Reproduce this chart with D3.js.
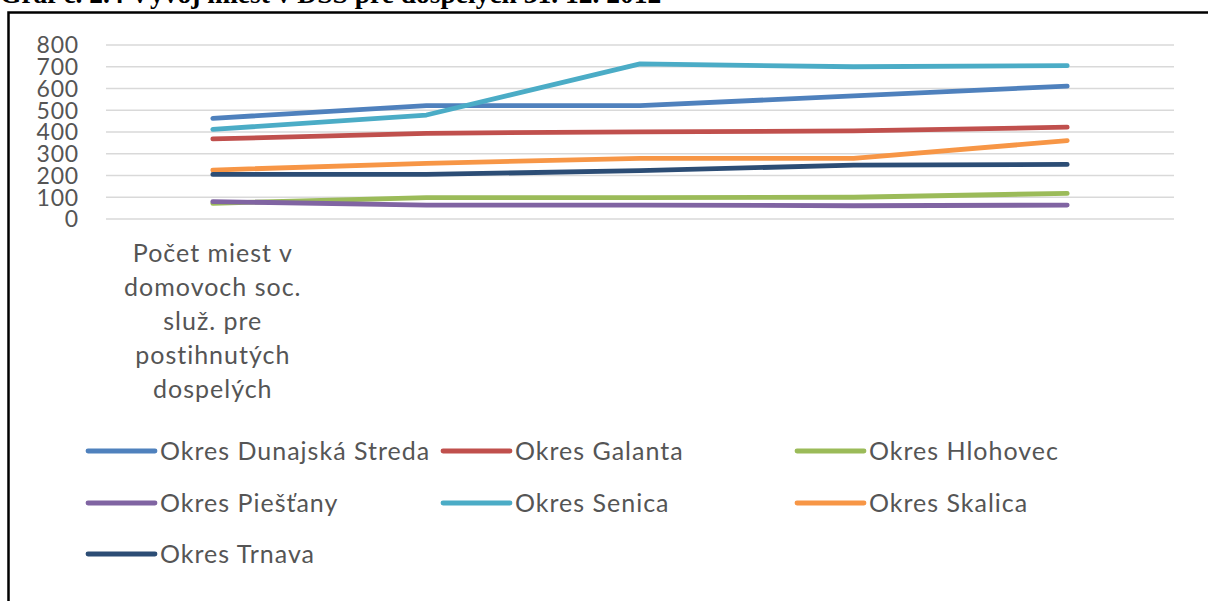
<!DOCTYPE html>
<html>
<head>
<meta charset="utf-8">
<script src="https://cdn.jsdelivr.net/npm/d3@7.9.0/dist/d3.min.js"></script>
<style>
  html, body { margin: 0; padding: 0; background: #fff; overflow: hidden; }
  svg { display: block; }
</style>
</head>
<body>
<svg id="chart" width="1208" height="601"></svg>
<script>
// --- data ---
const title = "Graf č. 2.4  Vývoj miest v DSS pre dospelých  31. 12. 2012";
const categories = ["Počet miest v domovoch soc. služ. pre postihnutých dospelých", "", "", "", ""];
const seriesNames = [
  "Okres Dunajská Streda", "Okres Galanta", "Okres Hlohovec",
  "Okres Piešťany", "Okres Senica", "Okres Skalica", "Okres Trnava"
];
const dunajskaStreda = [463, 521, 521, 566, 611];
const galanta        = [368, 394, 401, 405, 422];
const hlohovec       = [72, 98, 98, 100, 118];
const piestany       = [80, 64, 64, 61, 64];
const senica         = [412, 478, 713, 700, 705];
const skalica        = [225, 256, 279, 279, 360];
const trnava         = [205, 205, 222, 248, 251];
const yTicks = [0, 100, 200, 300, 400, 500, 600, 700, 800];

const seriesValues = [dunajskaStreda, galanta, hlohovec, piestany, senica, skalica, trnava];
const colors = ["#4F81BD", "#C0504D", "#9BBB59", "#8064A2", "#4BACC6", "#F79646", "#2C4D75"];

const series = seriesNames.map((name, i) => ({ name, values: seriesValues[i], color: colors[i] }));

// --- setup ---
const svg = d3.select("#chart");
const font = "Lato, 'Open Sans', sans-serif";
const textColor = "#555555";
const fs = 25;

// title (clipped at top of page)
svg.append("text")
  .attr("x", 0).attr("y", 2.5)
  .attr("font-family", "'Liberation Serif', 'Times New Roman', serif")
  .attr("font-weight", "bold")
  .attr("font-size", 27.5)
  .attr("fill", "#000")
  .text(title);

// frame
svg.append("rect")
  .attr("x", 8.5).attr("y", 12.5)
  .attr("width", 1230).attr("height", 620)
  .attr("fill", "none")
  .attr("stroke", "#000")
  .attr("stroke-width", 2.5);

const plot = { left: 106, right: 1174, top: 45, bottom: 219 };

const x = d3.scaleBand()
  .domain(d3.range(categories.length))
  .range([plot.left, plot.right]);
const cx = i => x(i) + x.bandwidth() / 2;

const y = d3.scaleLinear().domain([0, 800]).range([plot.bottom, plot.top]);

// gridlines
svg.append("g")
  .selectAll("line")
  .data(yTicks)
  .join("line")
  .attr("x1", plot.left).attr("x2", plot.right)
  .attr("y1", d => y(d)).attr("y2", d => y(d))
  .attr("stroke", "#d9d9d9")
  .attr("stroke-width", 1.5);

// y axis labels
svg.append("g")
  .selectAll("text")
  .data(yTicks)
  .join("text")
  .attr("x", 79)
  .attr("y", d => y(d))
  .attr("dy", "0.36em")
  .attr("text-anchor", "end")
  .attr("font-family", font)
  .attr("font-size", 23)
  .attr("letter-spacing", 0.8)
  .attr("fill", textColor)
  .text(d => d);

// category labels (wrapped)
function wrapLines(text, maxW, measure) {
  const words = text.split(/\s+/).filter(Boolean);
  const lines = [];
  let cur = "";
  words.forEach(w => {
    const t = cur ? cur + " " + w : w;
    if (cur && measure(t) > maxW) { lines.push(cur); cur = w; }
    else cur = t;
  });
  if (cur) lines.push(cur);
  return lines;
}

const measurer = svg.append("text")
  .attr("font-family", font).attr("font-size", fs).attr("letter-spacing", 1)
  .attr("visibility", "hidden");
const measure = s => { measurer.text(s); return measurer.node().getComputedTextLength(); };

categories.forEach((c, i) => {
  if (!c) return;
  const lines = wrapLines(c, 228, measure);
  const t = svg.append("text")
    .attr("text-anchor", "middle")
    .attr("font-family", font)
    .attr("font-size", fs)
    .attr("letter-spacing", 1)
    .attr("fill", textColor);
  lines.forEach((ln, k) => {
    t.append("tspan")
      .attr("x", cx(i))
      .attr("y", 253 + k * 34)
      .attr("dy", "0.36em")
      .text(ln);
  });
});
measurer.remove();

// lines
const line = d3.line()
  .x((d, i) => cx(i))
  .y(d => y(d));

svg.append("g")
  .selectAll("path")
  .data(series)
  .join("path")
  .attr("d", d => line(d.values))
  .attr("fill", "none")
  .attr("stroke", d => d.color)
  .attr("stroke-width", 4.8)
  .attr("stroke-linecap", "round")
  .attr("stroke-linejoin", "round");

// legend
const legendCols = [88, 443, 797];
const legendRows = [451, 503, 554];
const legend = svg.append("g")
  .selectAll("g")
  .data(series)
  .join("g")
  .attr("transform", (d, i) => `translate(${legendCols[i % 3]},${legendRows[Math.floor(i / 3)]})`);

legend.append("line")
  .attr("x1", 0).attr("x2", 67)
  .attr("y1", 0).attr("y2", 0)
  .attr("stroke", d => d.color)
  .attr("stroke-width", 4.8)
  .attr("stroke-linecap", "round");

legend.append("text")
  .attr("x", 72)
  .attr("y", 0)
  .attr("dy", "0.36em")
  .attr("font-family", font)
  .attr("font-size", fs)
  .attr("letter-spacing", 1)
  .attr("fill", textColor)
  .text(d => d.name);
</script>
</body>
</html>
